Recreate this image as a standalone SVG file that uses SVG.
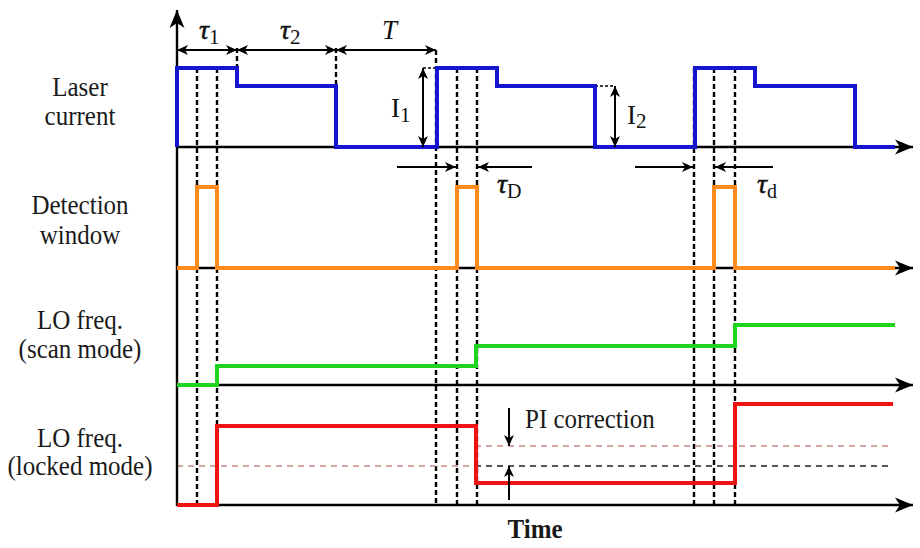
<svg xmlns="http://www.w3.org/2000/svg" width="920" height="548" viewBox="0 0 920 548">
<style>
.lbl{font-family:"Liberation Serif","Times New Roman",serif;font-size:25px;fill:#1a1a1a}
.sym{font-family:"Liberation Serif","Times New Roman",serif;fill:#111}
.tau{font-style:italic;stroke:#111;stroke-width:0.5}
.vd{stroke:#000;stroke-width:2.4;stroke-dasharray:5 3;fill:none}
.axis{stroke:#000;stroke-width:2.4;fill:none;marker-end:url(#big)}
.dim{stroke:#000;stroke-width:2;fill:none;marker-start:url(#sm);marker-end:url(#sm)}
.one{stroke:#000;stroke-width:2;fill:none;marker-end:url(#sm)}
.sig{fill:none;stroke-width:4;stroke-linejoin:miter}
.hdb{stroke:#c88a84;stroke-width:1.5;stroke-dasharray:6 5;fill:none}
.hdk{stroke:#222;stroke-width:1.5;stroke-dasharray:6 5;fill:none}
</style>
<defs>
<marker id="big" viewBox="-20 -10 22 20" refX="0" refY="0" markerWidth="22" markerHeight="20" markerUnits="userSpaceOnUse" orient="auto">
<path d="M0,0 L-18,-7.5 L-13,0 L-18,7.5 Z" fill="#000"/>
</marker>
<marker id="sm" viewBox="-14 -7 16 14" refX="0" refY="0" markerWidth="16" markerHeight="14" markerUnits="userSpaceOnUse" orient="auto-start-reverse">
<path d="M0,0 L-11,-5 L-8,0 L-11,5 Z" fill="#000"/>
</marker>
</defs>
<rect width="920" height="548" fill="#fff"/>

<g id="guides">
<line class="vd" x1="197" y1="68" x2="197" y2="506"/>
<line class="vd" x1="217" y1="68" x2="217" y2="506"/>
<line class="vd" x1="237" y1="48" x2="237" y2="68"/>
<line class="vd" x1="336" y1="48" x2="336" y2="86"/>
<line class="vd" x1="436" y1="50" x2="436" y2="506"/>
<line class="vd" x1="457" y1="68" x2="457" y2="506"/>
<line class="vd" x1="477" y1="68" x2="477" y2="506"/>
<line class="vd" x1="694" y1="68" x2="694" y2="506"/>
<line class="vd" x1="714" y1="68" x2="714" y2="506"/>
<line class="vd" x1="735" y1="68" x2="735" y2="506"/>
<line class="hdb" x1="177" y1="466" x2="475" y2="466"/>
<line class="hdk" x1="475" y1="466" x2="893" y2="466"/>
<line class="hdb" x1="475" y1="446" x2="893" y2="446"/>
<line x1="423" y1="68" x2="437" y2="68" stroke="#000" stroke-width="1.5" stroke-dasharray="3 2"/>
<line x1="595" y1="86" x2="615" y2="86" stroke="#000" stroke-width="1.5" stroke-dasharray="3 2"/>
</g>

<g id="axes">
<line class="axis" x1="177" y1="506" x2="177" y2="10"/>
<line class="axis" x1="177" y1="147" x2="913" y2="147"/>
<line class="axis" x1="177" y1="268" x2="913" y2="268"/>
<line class="axis" x1="177" y1="385" x2="913" y2="385"/>
<line class="axis" x1="177" y1="505" x2="913" y2="505"/>
</g>

<g id="laser-current">
<path class="sig" stroke="#1515d0" d="M177,147 V68 H237 V86 H336 V147 H437 V68 H497 V86 H595 V147 H695 V68 H755 V86 H855 V147 H895"/>
</g>
<g id="detection-window">
<path class="sig" stroke="#ff8a1c" stroke-width="3.5" d="M177,268 H197 V187 H217 V268 H457 V187 H477 V268 H714 V187 H735 V268 H895"/>
</g>
<g id="lo-scan">
<path class="sig" stroke="#1fd41f" d="M177,385 H217 V366 H476 V346 H735 V325 H895"/>
</g>
<g id="lo-locked">
<path class="sig" stroke="#ef1212" d="M177,505 H217 V426 H476 V483 H735 V404 H893"/>
</g>

<g id="annotations">
<line class="dim" x1="177" y1="50" x2="237" y2="50"/>
<line class="dim" x1="237" y1="50" x2="336" y2="50"/>
<line class="dim" x1="336" y1="50" x2="436" y2="50"/>
<line class="dim" x1="423" y1="68" x2="423" y2="147"/>
<line class="dim" x1="615" y1="86" x2="615" y2="147"/>
<line class="one" x1="397" y1="167" x2="456" y2="167"/>
<line class="one" x1="532" y1="167" x2="478" y2="167"/>
<line class="one" x1="635" y1="167" x2="693" y2="167"/>
<line class="one" x1="773" y1="167" x2="715" y2="167"/>
<line class="one" x1="509" y1="408" x2="509" y2="446"/>
<line class="one" x1="509" y1="500" x2="509" y2="466"/>
</g>

<g id="labels">
<text class="lbl" transform="translate(80,96) scale(1,1.1)" text-anchor="middle">Laser</text>
<text class="lbl" transform="translate(80,125) scale(1,1.1)" text-anchor="middle">current</text>
<text class="lbl" transform="translate(80,214) scale(1,1.1)" text-anchor="middle">Detection</text>
<text class="lbl" transform="translate(80,244) scale(1,1.1)" text-anchor="middle">window</text>
<text class="lbl" transform="translate(80,329) scale(1,1.1)" text-anchor="middle">LO freq.</text>
<text class="lbl" transform="translate(80,358) scale(1,1.1)" text-anchor="middle">(scan mode)</text>
<text class="lbl" transform="translate(80,447) scale(1,1.1)" text-anchor="middle">LO freq.</text>
<text class="lbl" transform="translate(80,475) scale(1,1.1)" text-anchor="middle">(locked mode)</text>
<text class="lbl" transform="translate(525,428) scale(1,1.1)">PI correction</text>
<text class="lbl" transform="translate(535,538) scale(1,1.1)" text-anchor="middle" font-weight="bold">Time</text>
<text class="sym" x="199" y="39" font-size="28"><tspan class="tau">τ</tspan><tspan font-size="21" dy="5">1</tspan></text>
<text class="sym" x="280" y="39" font-size="28"><tspan class="tau">τ</tspan><tspan font-size="21" dy="5">2</tspan></text>
<text class="sym" x="382" y="39" font-size="27" font-style="italic">T</text>
<text class="sym" x="391" y="117" font-size="27">I<tspan font-size="21" dy="5">1</tspan></text>
<text class="sym" x="627" y="124" font-size="27">I<tspan font-size="21" dy="4">2</tspan></text>
<text class="sym" x="497" y="193" font-size="28"><tspan class="tau">τ</tspan><tspan font-size="20" dy="5">D</tspan></text>
<text class="sym" x="757" y="193" font-size="28"><tspan class="tau">τ</tspan><tspan font-size="20" dy="5">d</tspan></text>
</g>
</svg>
